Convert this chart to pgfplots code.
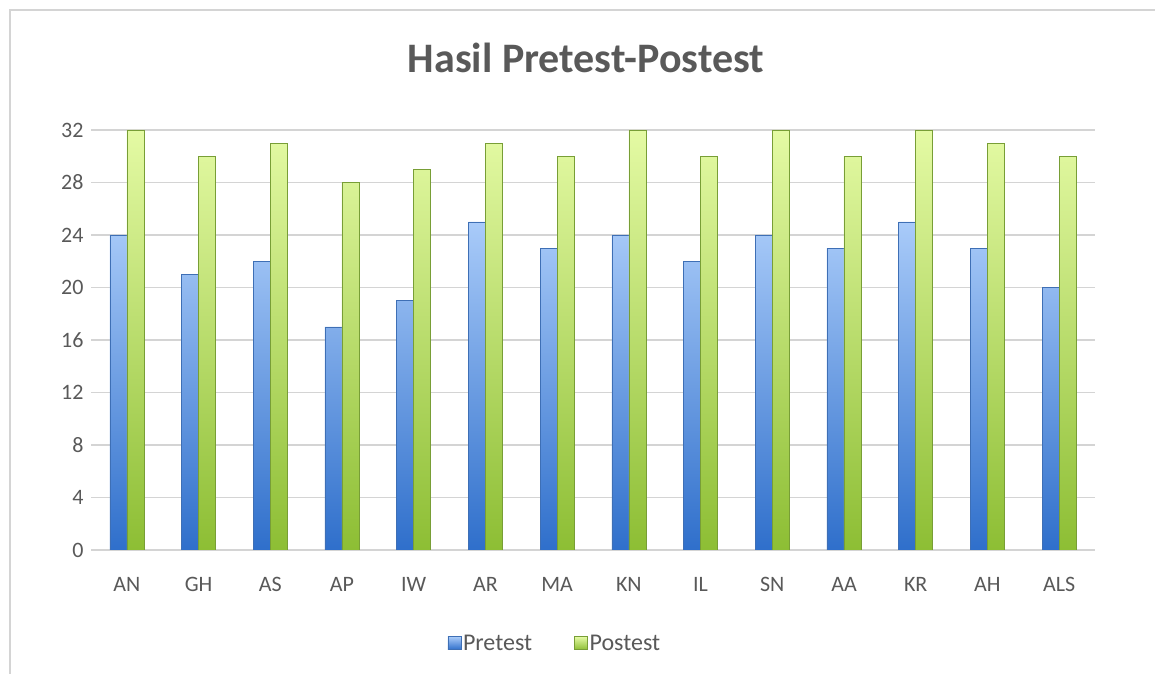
\documentclass[border=0pt]{standalone}
\usepackage{pgfplots}
\pgfplotsset{compat=1.18}
\usepackage{fontspec}
\setmainfont{Carlito}
\definecolor{txt}{HTML}{595959}
\definecolor{gridc}{HTML}{D4D4D4}
\definecolor{bluetop}{HTML}{A9CBF9}
\definecolor{bluebot}{HTML}{2F6FCB}
\definecolor{blueedge}{HTML}{3E6FB5}
\definecolor{greentop}{HTML}{E4FAA4}
\definecolor{greenbot}{HTML}{8DBE34}
\definecolor{greenedge}{HTML}{789E36}
\begin{document}
\begin{tikzpicture}
\useasboundingbox (0,0) rectangle (1155bp,674bp);
\draw[gridc, line width=1.2bp] (10bp,0) -- (10bp,664bp) -- (1155bp,664bp);
\node[text=txt, font=\fontsize{42bp}{48bp}\selectfont\bfseries] at (586bp,616bp) {Hasil Pretest-Postest};
\begin{axis}[
  at={(91bp,124bp)}, anchor=south west,
  scale only axis, width=1004bp, height=420bp,
  xmin=-0.5, xmax=13.5, ymin=0, ymax=32,
  ytick={0,4,...,32},
  xtick={0,...,13},
  xticklabels={AN,GH,AS,AP,IW,AR,MA,KN,IL,SN,AA,KR,AH,ALS},
  axis line style={draw=none},
  major tick length=0pt,
  ymajorgrids,
  major grid style={gridc, line width=1.2bp},
  /pgf/number format/assume math mode=true,
  ticklabel style={text=txt, font=\fontsize{22bp}{26bp}\selectfont},
  yticklabel style={xshift=-4bp},
  xticklabel style={yshift=-24bp},
  ybar=0pt, bar width=17bp,
  legend style={at={(0.462,-0.223)}, anchor=center, draw=none, fill=none,
    legend columns=2, font=\fontsize{24bp}{28bp}\selectfont, text=txt,
    /tikz/every even column/.append style={column sep=40bp}},
  legend cell align=left,
]
\addplot[draw=blueedge, line width=0.5bp, shading=axis, top color=bluetop, bottom color=bluebot,
  legend image code/.code={\shade[top color=bluetop, bottom color=bluebot, draw=blueedge] (0bp,-6bp) rectangle (13bp,7bp);}]
  coordinates {(0,24) (1,21) (2,22) (3,17) (4,19) (5,25) (6,23) (7,24) (8,22) (9,24) (10,23) (11,25) (12,23) (13,20)};
\addlegendentry{Pretest}
\addplot[draw=greenedge, line width=0.5bp, shading=axis, top color=greentop, bottom color=greenbot,
  legend image code/.code={\shade[top color=greentop, bottom color=greenbot, draw=greenedge] (0bp,-6bp) rectangle (13bp,7bp);}]
  coordinates {(0,32) (1,30) (2,31) (3,28) (4,29) (5,31) (6,30) (7,32) (8,30) (9,32) (10,30) (11,32) (12,31) (13,30)};
\addlegendentry{Postest}
\end{axis}
\end{tikzpicture}
\end{document}
